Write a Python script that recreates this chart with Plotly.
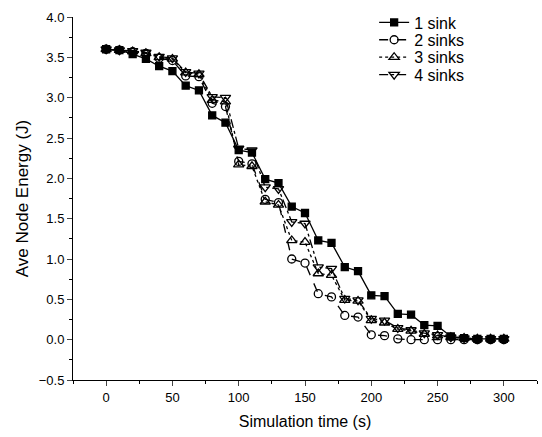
import plotly.graph_objects as go

time_s = [0, 10, 20, 30, 40, 50, 60, 70, 80, 90, 100, 110, 120, 130, 140, 150,
          160, 170, 180, 190, 200, 210, 220, 230, 240, 250, 260, 270, 280, 290, 300]

sink1 = [3.60, 3.59, 3.54, 3.48, 3.39, 3.33, 3.15, 3.09, 2.78, 2.69, 2.35, 2.32, 1.99, 1.94,
         1.65, 1.57, 1.23, 1.20, 0.90, 0.85, 0.55, 0.54, 0.32, 0.31, 0.18, 0.17, 0.04, 0.02,
         0.01, 0.01, 0.01]
sink2 = [3.60, 3.59, 3.57, 3.55, 3.49, 3.46, 3.27, 3.26, 2.93, 2.89, 2.21, 2.18, 1.74, 1.70,
         1.00, 0.95, 0.57, 0.53, 0.30, 0.28, 0.06, 0.05, 0.01, 0.00, 0.00, 0.00, 0.00, 0.00,
         0.00, 0.00, 0.00]
sink3 = [3.60, 3.59, 3.57, 3.55, 3.50, 3.48, 3.31, 3.29, 2.97, 2.95, 2.17, 2.15, 1.71, 1.67,
         1.23, 1.21, 0.82, 0.80, 0.49, 0.48, 0.24, 0.21, 0.13, 0.11, 0.07, 0.05, 0.03, 0.02,
         0.01, 0.01, 0.01]
sink4 = [3.60, 3.59, 3.58, 3.56, 3.51, 3.49, 3.32, 3.30, 3.01, 3.00, 2.37, 2.35, 1.89, 1.87,
         1.46, 1.44, 0.90, 0.88, 0.51, 0.49, 0.26, 0.24, 0.145, 0.12, 0.08, 0.06, 0.03, 0.02,
         0.01, 0.01, 0.01]

names = ["1 sink", "2 sinks", "3 sinks", "4 sinks"]
series = [sink1, sink2, sink3, sink4]
dashes = ["solid", "dash", "dot", "dashdot"]
symbols = ["square", "circle-open", "triangle-up-open", "triangle-down-open"]
sizes = [7, 8, 9, 9]
legend_ids = ["legend", "legend2", "legend3", "legend4"]
legend_y = [0.9849, 0.9370, 0.8890, 0.8411]

fig = go.Figure()
for name, ys, dash, sym, sz, lg in zip(names, series, dashes, symbols, sizes, legend_ids):
    fig.add_trace(go.Scatter(
        x=time_s, y=ys, name=name, mode="lines+markers", legend=lg,
        line=dict(color="black", width=1.3, dash=dash),
        marker=dict(symbol=sym, size=sz, color="black",
                    line=dict(color="black", width=1.3)),
    ))

font_family = "Liberation Sans, Arial, sans-serif"
legend_common = dict(x=0.649, xanchor="left", yanchor="middle",
                     bgcolor="rgba(0,0,0,0)", font=dict(size=16))

fig.update_layout(
    width=542, height=437,
    margin=dict(l=73, r=5, t=15, b=57),
    paper_bgcolor="white", plot_bgcolor="white",
    font=dict(family=font_family, color="black", size=13),
    showlegend=True,
    legend=dict(y=legend_y[0], **legend_common),
    legend2=dict(y=legend_y[1], **legend_common),
    legend3=dict(y=legend_y[2], **legend_common),
    legend4=dict(y=legend_y[3], **legend_common),
    xaxis=dict(range=[-25, 325], dtick=50, tick0=0, ticks="outside", ticklen=5,
               showline=True, linecolor="black", linewidth=1, showgrid=False,
               zeroline=False, tickfont=dict(size=13),
               title=dict(text="Simulation time (s)", font=dict(size=16), standoff=12),
               minor=dict(dtick=25, tick0=0, ticks="outside", ticklen=3,
                          tickcolor="black", showgrid=False)),
    yaxis=dict(range=[-0.5, 4.0], dtick=0.5, tick0=0, ticks="outside", ticklen=5,
               tickformat=".1f",
               showline=True, linecolor="black", linewidth=1, showgrid=False,
               zeroline=False, tickfont=dict(size=13),
               title=dict(text="Ave Node Energy (J)", font=dict(size=17), standoff=5),
               minor=dict(dtick=0.25, tick0=0, ticks="outside", ticklen=3,
                          tickcolor="black", showgrid=False)),
)

fig.write_html("out.html")
